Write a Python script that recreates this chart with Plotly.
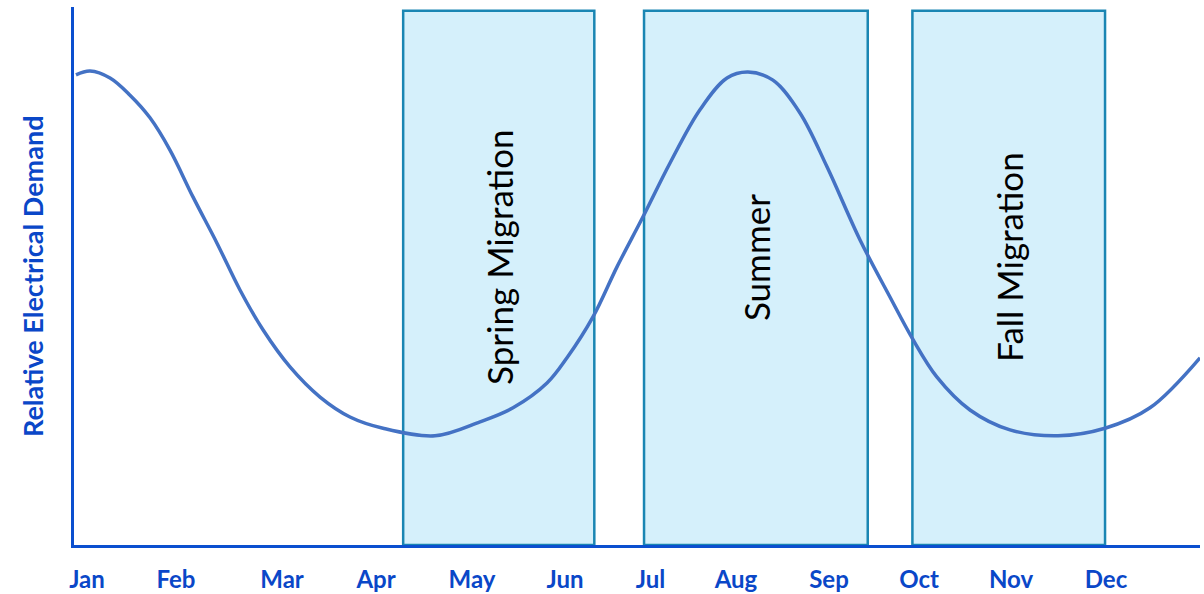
import plotly.graph_objects as go

# Month tick positions along the x axis (in month units, 0 = start of year)
months = ["Jan", "Feb", "Mar", "Apr", "May", "Jun",
          "Jul", "Aug", "Sep", "Oct", "Nov", "Dec"]
month_pos = [0.139, 1.087, 2.217, 3.219, 4.242, 5.233,
             6.144, 7.055, 8.046, 9.006, 9.986, 10.998]

# Relative electrical demand curve (sampled points, drawn as a spline)
demand_x = [0.021, 0.171, 0.384, 0.597, 0.810, 1.023, 1.268, 1.524, 1.769,
            2.014, 2.302, 2.622, 2.941, 3.293, 3.847, 4.327, 4.679,
            5.041, 5.254, 5.531, 5.787, 6.064, 6.352, 6.671, 6.959, 7.183,
            7.449, 7.737, 8.025, 8.377, 8.696, 8.931, 9.197, 9.549,
            9.975, 10.487, 10.988, 11.467, 12.0]
demand_y = [87.4, 88.1, 86.8, 83.6, 79.4, 73.4, 64.7, 56.1, 47.4,
            40.0, 33.1, 27.5, 23.8, 21.7, 20.3, 22.9, 25.5,
            30.1, 34.8, 42.4, 51.7, 61.0, 71.0, 80.9, 86.8, 87.9,
            86.4, 80.3, 70.3, 56.7, 46.1, 38.5, 31.2, 25.1,
            21.4, 20.3, 21.7, 25.5, 34.8]

# Seasonal periods
periods = ["Spring Migration", "Summer", "Fall Migration"]
period_start = [3.508, 6.075, 8.935]
period_end = [5.545, 8.459, 10.988]
period_top = 99.3
label_y = 53.5

AXIS_BLUE = "#0b4fcf"
TEXT_BLUE = "#0a47c8"

fig = go.Figure()

for name, x0, x1 in zip(periods, period_start, period_end):
    fig.add_shape(type="rect", xref="x", yref="y",
                  x0=x0, x1=x1, y0=0, y1=period_top,
                  fillcolor="#d5f0fb",
                  line=dict(color="#1a86b3", width=2.5),
                  layer="below")
    fig.add_annotation(x=(x0 + x1) / 2, y=label_y, xref="x", yref="y",
                       text=name, textangle=-90, showarrow=False,
                       font=dict(family="Lato", size=35, color="#000000"))

fig.add_trace(go.Scatter(
    x=demand_x, y=demand_y, mode="lines",
    line=dict(color="#4472c4", width=3.5, shape="spline", smoothing=1.0),
    hoverinfo="skip", showlegend=False,
))

fig.add_annotation(x=-0.0373, y=0.5, xref="paper", yref="paper",
                   text="<b>Relative Electrical Demand</b>", textangle=-90,
                   showarrow=False, xanchor="center", yanchor="middle",
                   font=dict(family="Lato", size=27, color=TEXT_BLUE))

fig.update_xaxes(range=[0, 12], tickvals=month_pos,
                 ticktext=[f"<b>{m}</b>" for m in months],
                 showline=True, linecolor=AXIS_BLUE, linewidth=3,
                 showgrid=False, zeroline=False, automargin=False,
                 ticks="outside", ticklen=11, tickcolor="rgba(0,0,0,0)",
                 tickfont=dict(family="Lato", size=24, color=TEXT_BLUE))
fig.update_yaxes(range=[0, 100], showline=True, linecolor=AXIS_BLUE,
                 linewidth=3, showgrid=False, zeroline=False,
                 showticklabels=False, ticks="", automargin=False)

fig.update_layout(width=1204, height=594,
                  margin=dict(l=74, r=4, t=7, b=49),
                  paper_bgcolor="white", plot_bgcolor="white")

fig.write_html("out.html")
